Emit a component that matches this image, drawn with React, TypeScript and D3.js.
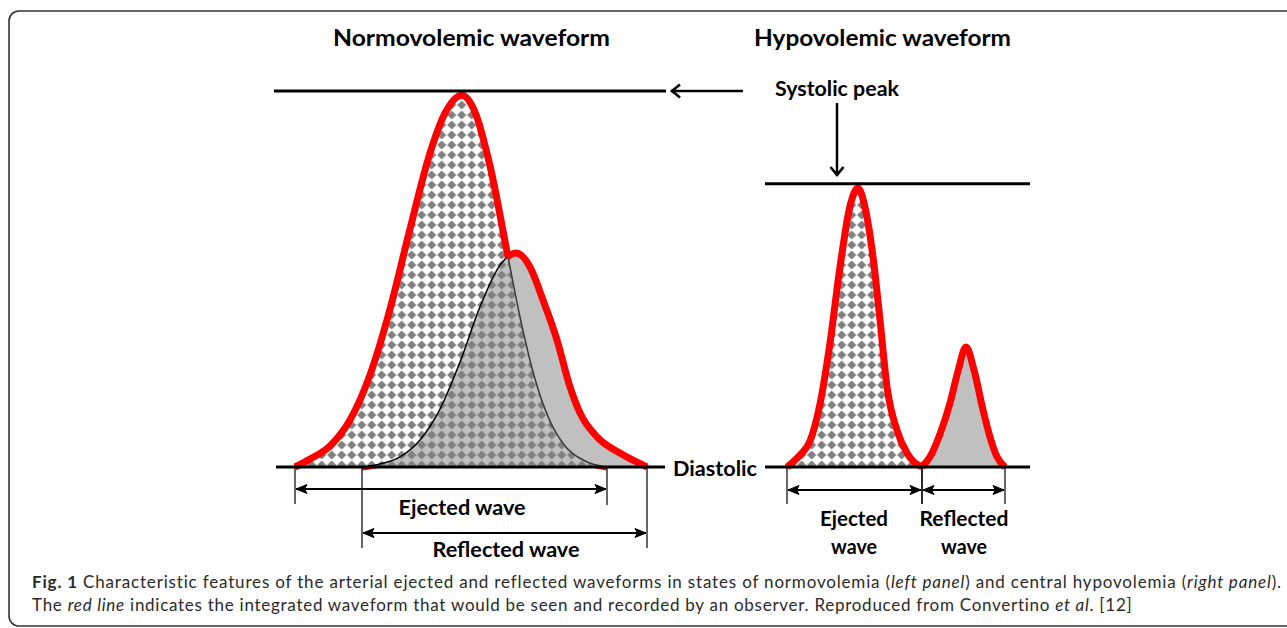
import React, { useLayoutEffect, useRef } from 'react'
import * as d3 from 'd3'

// time in ms from the foot of the ejected wave, pressure in % of the normovolemic pulse pressure
const normoEjectedT = [0, 30, 70, 110, 150, 190, 230, 270, 300, 334, 360, 390, 426, 450, 480, 510, 540, 580, 624]
const normoEjectedP = [0, 2.1, 5.6, 12.5, 24.5, 42.0, 63.3, 83.5, 94.1, 98.9, 94.4, 80.1, 55.9, 39.9, 23.4, 12.2, 5.6, 1.6, 0]
const normoReflectedT = [134, 170, 210, 250, 290, 330, 370, 410, 442, 470, 496, 524, 550, 570, 604, 650, 704]
const normoReflectedP = [0, 0.8, 2.7, 7.2, 15.4, 27.9, 42.6, 53.7, 56.9, 53.2, 44.4, 33.8, 21.3, 14.4, 8.0, 3.7, 0]

const hypoEjectedT = [0, 26, 46, 66, 86, 106, 126, 142, 158, 172, 186, 200, 220, 240, 270]
const hypoEjectedP = [0, 3.2, 6.9, 16.8, 33.0, 53.2, 69.4, 74.2, 67.8, 55.9, 39.1, 21.3, 9.8, 3.7, 0]
const hypoReflectedT = [270, 286, 306, 326, 342, 358, 374, 392, 406, 420, 436]
const hypoReflectedP = [0, 2.7, 8.8, 17.0, 25.5, 31.9, 25.8, 15.2, 8.0, 2.7, 0]

const systolicLevels = [100, 75.3]
const titles = ['Normovolemic waveform', 'Hypovolemic waveform']

const RED = '#ff0000'
const FONT = 'Lato, "Open Sans", sans-serif'

const zip = (t, p) => t.map((v, i) => ({ t: v, p: p[i] }))

const y = d3.scaleLinear().domain([0, 100]).range([467, 91])

function Waves ({ id, x, ej, rf }) {
  const line = d3.line().x(d => x(d.t)).y(d => y(d.p)).curve(d3.curveMonotoneX)
  const area = d3.area().x(d => x(d.t)).y0(y(0)).y1(d => y(d.p)).curve(d3.curveMonotoneX)
  return (
    <g>
      <defs>
        <mask id={id + '-mej'} maskUnits='userSpaceOnUse' x={0} y={0} width={1287} height={628}>
          <rect x={0} y={0} width={1287} height={628} fill='white' />
          <path d={area(rf)} fill='black' />
        </mask>
        <mask id={id + '-mrf'} maskUnits='userSpaceOnUse' x={0} y={0} width={1287} height={628}>
          <rect x={0} y={0} width={1287} height={628} fill='white' />
          <path d={area(ej)} fill='black' />
        </mask>
      </defs>
      <path d={area(rf)} fill='#c0c0c0' />
      <path d={area(ej)} fill='url(#checker)' />
      <path d={line(ej)} fill='none' stroke='#3a3a3a' strokeWidth={1.5} />
      <path d={line(rf)} fill='none' stroke='#000' strokeWidth={1.5} />
      {/* the red envelope: each wave's outline where it is not under the other wave */}
      <path d={line(ej)} fill='none' stroke={RED} strokeWidth={7} strokeLinejoin='round' mask={`url(#${id}-mej)`} />
      <path d={line(rf)} fill='none' stroke={RED} strokeWidth={7} strokeLinejoin='round' mask={`url(#${id}-mrf)`} />
    </g>
  )
}

function Span ({ x1, x2, yy, tick1, tick2 }) {
  return (
    <g>
      <line x1={x1} x2={x1} y1={y(0) + 1} y2={tick1} stroke='#000' strokeWidth={1.2} />
      <line x1={x2} x2={x2} y1={y(0) + 1} y2={tick2} stroke='#000' strokeWidth={1.2} />
      <line x1={x1 + 1} x2={x2 - 1} y1={yy} y2={yy} stroke='#000' strokeWidth={2}
        markerStart='url(#tri)' markerEnd='url(#tri)' />
    </g>
  )
}

function Label ({ x, yy, text, len, size = 21 }) {
  return (
    <text x={x} y={yy} textAnchor='middle' fontFamily={FONT} fontWeight='bold' fontSize={size}
      textLength={len} lengthAdjust='spacingAndGlyphs'>{text}</text>
  )
}

export default function App () {
  const cap1 = useRef(null)
  const cap2 = useRef(null)

  // spread the caption lines to the reference widths with a little letter spacing
  useLayoutEffect(() => {
    [[cap1.current, 1249], [cap2.current, 1100]].forEach(([el, target]) => {
      if (!el) return
      el.style.letterSpacing = '0px'
      const w = el.getComputedTextLength()
      const n = el.textContent.trim().length
      if (n > 1) el.style.letterSpacing = ((target - w) / (n - 1)) + 'px'
    })
  }, [])

  const ne = zip(normoEjectedT, normoEjectedP)
  const nr = zip(normoReflectedT, normoReflectedP)
  const he = zip(hypoEjectedT, hypoEjectedP)
  const hr = zip(hypoReflectedT, hypoReflectedP)

  const xL = d3.scaleLinear().domain([0, 704]).range([295, 647])
  const xR = d3.scaleLinear().domain([0, 436]).range([787, 1005])

  const base = y(0)
  const topL = y(systolicLevels[0])
  const topR = y(systolicLevels[1])

  return (
    <svg width={1287} height={628} style={{ position: 'absolute', left: 0, top: 0, background: '#fff' }}>
      <defs>
        <pattern id='checker' patternUnits='userSpaceOnUse' x={-3.3} y={0} width={10} height={10}>
          <path d='M5,0.4 L9.6,5 L5,9.6 L0.4,5 Z' fill='#808080' />
        </pattern>
        <marker id='chev' markerUnits='userSpaceOnUse' viewBox='-14 -8 16 16' markerWidth={16} markerHeight={16}
          refX={0} refY={0} orient='auto'>
          <path d='M-9,-6.5 L-1,0 L-9,6.5' fill='none' stroke='#000' strokeWidth={2.6} />
        </marker>
        <marker id='tri' markerUnits='userSpaceOnUse' viewBox='-14 -8 16 16' markerWidth={16} markerHeight={16}
          refX={0} refY={0} orient='auto-start-reverse'>
          <path d='M-11,-4.5 L0,0 L-11,4.5 L-8.5,0 Z' fill='#000' stroke='#000' strokeWidth={1} strokeLinejoin='round' />
        </marker>
      </defs>

      <rect x={9} y={11} width={1300} height={615} rx={10} fill='none' stroke='#333' strokeWidth={1.6} />

      {/* titles */}
      <Label x={471.5} yy={46} text={titles[0]} len={277} size={22} />
      <Label x={882.5} yy={46} text={titles[1]} len={257} size={22} />

      {/* left panel */}
      <Waves id='normo' x={xL} ej={ne} rf={nr} />
      <line x1={274} x2={666} y1={topL} y2={topL} stroke='#000' strokeWidth={3} />
      <line x1={276} x2={665} y1={base} y2={base} stroke='#000' strokeWidth={3} />
      <line x1={743} x2={671} y1={topL} y2={topL} stroke='#000' strokeWidth={2.5} markerEnd='url(#chev)' />
      <Span x1={xL(normoEjectedT[0])} x2={xL(normoEjectedT[normoEjectedT.length - 1])} yy={489} tick1={504} tick2={505} />
      <Span x1={xL(normoReflectedT[0])} x2={xL(normoReflectedT[normoReflectedT.length - 1])} yy={533} tick1={548} tick2={548} />
      <Label x={462} yy={515} text='Ejected wave' len={127} />
      <Label x={506} yy={557} text='Reflected wave' len={147} />

      <text x={673} y={476} fontFamily={FONT} fontWeight='bold' fontSize={21} textLength={84} lengthAdjust='spacingAndGlyphs'>Diastolic</text>

      {/* right panel */}
      <Label x={837} yy={96} text='Systolic peak' len={124} />
      <line x1={837} x2={837} y1={103} y2={176} stroke='#000' strokeWidth={2.5} markerEnd='url(#chev)' />
      <Waves id='hypo' x={xR} ej={he} rf={hr} />
      <line x1={765} x2={1030} y1={topR} y2={topR} stroke='#000' strokeWidth={3} />
      <line x1={765} x2={1030} y1={base} y2={base} stroke='#000' strokeWidth={3} />
      <Span x1={xR(hypoEjectedT[0])} x2={xR(hypoEjectedT[hypoEjectedT.length - 1])} yy={490} tick1={504} tick2={504} />
      <Span x1={xR(hypoReflectedT[0])} x2={xR(hypoReflectedT[hypoReflectedT.length - 1])} yy={490} tick1={504} tick2={504} />
      <Label x={854} yy={526} text='Ejected' len={68} />
      <Label x={854} yy={554} text='wave' len={46} />
      <Label x={964} yy={526} text='Reflected' len={89} />
      <Label x={964} yy={554} text='wave' len={46} />

      {/* caption */}
      <g fontFamily='Lato, "Noto Sans", sans-serif' fontSize={17} fill='#2a2a2a'>
        <text ref={cap1} x={32} y={588}>
          <tspan fontWeight='bold'>Fig. 1</tspan> Characteristic features of the arterial ejected and reflected waveforms in states of normovolemia (<tspan fontStyle='italic'>left panel</tspan>) and central hypovolemia (<tspan fontStyle='italic'>right panel</tspan>).
        </text>
        <text ref={cap2} x={32} y={611}>
          The <tspan fontStyle='italic'>red line</tspan> indicates the integrated waveform that would be seen and recorded by an observer. Reproduced from Convertino <tspan fontStyle='italic'>et al</tspan>. [12]
        </text>
      </g>
    </svg>
  )
}
